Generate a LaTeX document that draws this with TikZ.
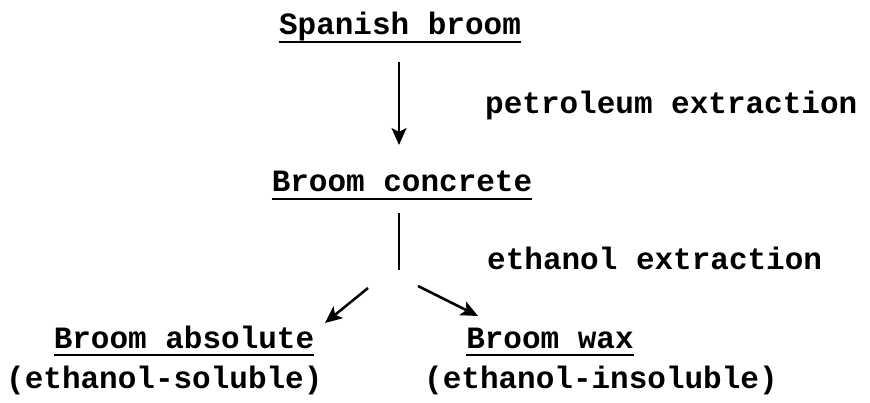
\documentclass[tikz,border=0pt]{standalone}
\usepackage{fontspec}
\setmonofont{Liberation Mono}
\usetikzlibrary{arrows.meta}
\begin{document}
\begin{tikzpicture}[x=1pt,y=-1pt,
  lbl/.style={font=\ttfamily\bfseries\fontsize{31}{33}\selectfont, inner sep=0pt},
  arr/.style={line width=2.5pt,-{Stealth[length=17pt,width=15pt,inset=4pt]}},
  ln/.style={line width=2.5pt},
  uline/.style={line width=2.6pt}]
\useasboundingbox (0,0) rectangle (870,403);
\node[lbl,anchor=base] (sb) at (400,35) {Spanish broom};
\node[lbl,anchor=base west] (pe) at (485,114) {petroleum extraction};
\node[lbl,anchor=base] (bc) at (402,192) {Broom concrete};
\node[lbl,anchor=base west] (ee) at (487,270) {ethanol extraction};
\node[lbl,anchor=base] (ba) at (184,348) {Broom absolute};
\node[lbl,anchor=base west] (bas) at (6,388) {(ethanol-soluble)};
\node[lbl,anchor=base] (bw) at (550,348) {Broom wax};
\node[lbl,anchor=base west] (bws) at (424,388) {(ethanol-insoluble)};
\foreach \n in {sb,bc,ba,bw}
  \draw[uline] ([yshift=-7pt]\n.base west) -- ([yshift=-7pt]\n.base east);
\coordinate (a1s) at (399,62);
\coordinate (a1e) at (399,145);
\coordinate (l1s) at (399,213);
\coordinate (l1e) at (399,270);
\coordinate (d1s) at (368,288);
\coordinate (d1e) at (325,323);
\coordinate (d2s) at (418,286);
\coordinate (d2e) at (478,316);
\draw[arr] (a1s) -- (a1e);
\draw[ln] (l1s) -- (l1e);
\draw[arr] (d1s) -- (d1e);
\draw[arr] (d2s) -- (d2e);
\end{tikzpicture}
\end{document}
